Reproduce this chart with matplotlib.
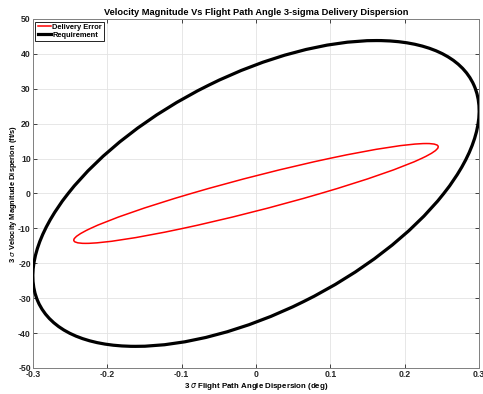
import matplotlib.pyplot as plt
import numpy as np
from matplotlib.patches import Ellipse

# 3-sigma extents and correlation
names = ["Delivery Error", "Requirement"]
fpa_3sigma = [0.245, 0.30]      # deg
vel_3sigma = [14.3, 43.8]       # ft/s
correlation = [0.935, 0.54]
colors = ["red", "black"]
widths = [1.1, 2.3]

xticks = [-0.3, -0.2, -0.1, 0, 0.1, 0.2, 0.3]
yticks = [-50, -40, -30, -20, -10, 0, 10, 20, 30, 40, 50]

plt.rcParams["font.family"] = ["Liberation Sans", "DejaVu Sans"]
plt.rcParams["axes.unicode_minus"] = False

fig = plt.figure(figsize=(4.83, 3.94), dpi=100)
ax = fig.add_axes([0.068, 0.066, 0.924, 0.886])

handles = []
for name, a, b, rho, c, lw in zip(names, fpa_3sigma, vel_3sigma, correlation, colors, widths):
    cov = np.array([[a * a, rho * a * b], [rho * a * b, b * b]])
    vals, vecs = np.linalg.eigh(cov)
    ang = np.degrees(np.arctan2(vecs[1, 1], vecs[0, 1]))
    e = Ellipse((0, 0), 2 * np.sqrt(vals[1]), 2 * np.sqrt(vals[0]), angle=ang,
                fill=False, edgecolor=c, linewidth=lw, zorder=3)
    ax.add_patch(e)
    handles.append(plt.Line2D([], [], color=c, linewidth=lw, label=name))

ax.set_xlim(-0.3, 0.3)
ax.set_ylim(-50, 50)
ax.set_xticks(xticks)
ax.set_yticks(yticks)
ax.set_xticklabels(["%g" % t for t in xticks], fontsize=6.2, fontweight="bold")
ax.set_yticklabels(["%g" % t for t in yticks], fontsize=6.2, fontweight="bold")
ax.tick_params(direction="in", length=3, width=0.6, colors="#262626",
               top=True, right=True, pad=1.5)
ax.grid(True, color="#e3e3e3", linewidth=0.6)
ax.set_axisbelow(True)
for s in ax.spines.values():
    s.set_color("#7f7f7f")
    s.set_linewidth(0.7)

ax.set_title("Velocity Magnitude Vs Flight Path Angle 3-sigma Delivery Dispersion",
             fontsize=6.7, fontweight="bold", pad=3)
ax.set_xlabel("3 $\\sigma$ Flight Path Angle Dispersion (deg)", fontsize=5.7,
              fontweight="bold", labelpad=1.5)
ax.set_ylabel("3 $\\sigma$ Velocity Magnitude Disperion (ft/s)", fontsize=5.4,
              fontweight="bold", labelpad=-0.5)

leg = ax.legend(handles=handles, loc="upper left", fontsize=5.4, frameon=True,
                fancybox=False, edgecolor="black", framealpha=1,
                handlelength=1.8, handletextpad=0.15, borderpad=0.3,
                labelspacing=0.05, borderaxespad=0.35)
leg.get_frame().set_linewidth(0.6)
for t in leg.get_texts():
    t.set_fontweight("bold")

fig.savefig("out.png", dpi=100)
